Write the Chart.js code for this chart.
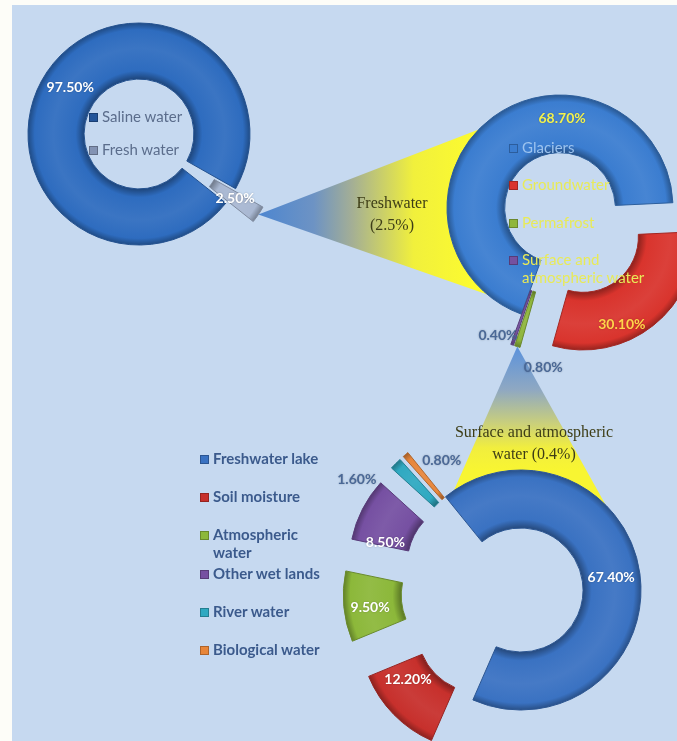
<!DOCTYPE html>
<html>
<head>
<meta charset="utf-8">
<title>Water distribution</title>
<script src="https://cdn.jsdelivr.net/npm/chart.js@4.4.1/dist/chart.umd.min.js"></script>
<style>
  html, body { margin: 0; padding: 0; background: #fdfdf8; }
  #page { position: relative; width: 677px; height: 741px; overflow: hidden; }
  #panel { position: absolute; left: 12px; top: 5px; right: 0; bottom: 0; background: #c6d9f0; }
  canvas { position: absolute; }
  .item { position: absolute; line-height: 20px; }
  .item i { position: absolute; left: -13px; top: 6px; width: 7px; height: 7px; border: 1px solid rgba(0, 0, 0, 0.25); }
  .callout { position: absolute; font-family: "Liberation Serif", "DejaVu Serif", serif; font-size: 16px;
    color: #3d3d16; text-align: center; line-height: 22px; }
</style>
</head>
<body>
<div id="page">
  <div id="panel"></div>
  <canvas id="callouts" width="677" height="741" style="left:0;top:0"></canvas>
  <canvas id="water_chart"></canvas>
  <canvas id="fresh_chart"></canvas>
  <canvas id="surface_chart"></canvas>
  <div class="callout" id="fresh_note" style="left:332px;top:192px;width:120px"></div>
  <div class="callout" id="surface_note" style="left:424px;top:421px;width:220px"></div>
</div>
<script>
// all water on earth
const waterLabels = ["Saline water", "Fresh water"];
const waterValues = [97.5, 2.5];

// fresh water split
const freshLabels = ["Glaciers", "Groundwater", "Permafrost", "Surface and atmospheric water"];
const freshValues = [68.7, 30.1, 0.8, 0.4];

// surface and atmospheric water split
const surfaceLabels = ["Freshwater lake", "Soil moisture", "Atmospheric water", "Other wet lands", "River water", "Biological water"];
const surfaceValues = [67.4, 12.2, 9.5, 8.5, 1.6, 0.8];

const waterColors = ["#2e6cbf", "#a9b8d2"];
const freshColors = ["#3b7dd0", "#d9342d", "#8fb63c", "#7551a0"];
const surfaceColors = ["#3a72c2", "#c7302c", "#8cb83a", "#7650a2", "#2fa9c1", "#e8863a"];

const shade = (hex, k) => {
  const n = parseInt(hex.slice(1), 16);
  const f = (c) => Math.round(k < 0 ? c * (1 + k) : c + (255 - c) * k);
  return `rgb(${f(n >> 16)}, ${f((n >> 8) & 255)}, ${f(n & 255)})`;
};

// bevelled look: darker at inner and outer rim
const tube = (colors) => (context) => {
  const chart = context.chart;
  const color = colors[context.dataIndex];
  const ctrl = chart.getDatasetMeta(0).controller;
  if (!chart.chartArea || !ctrl || !ctrl.outerRadius) return color;
  const a = chart.chartArea;
  const cx = (a.left + a.right) / 2;
  const cy = (a.top + a.bottom) / 2;
  const g = chart.ctx.createRadialGradient(cx, cy, ctrl.innerRadius, cx, cy, ctrl.outerRadius);
  g.addColorStop(0, shade(color, -0.35));
  g.addColorStop(0.15, color);
  g.addColorStop(0.55, shade(color, 0.06));
  g.addColorStop(0.88, color);
  g.addColorStop(1, shade(color, -0.3));
  return g;
};

// pulls slices out of the ring like an exploded pie
const explode = (shift) => ({
  id: "explode",
  beforeDatasetDraw(chart, args) {
    const ctx = chart.ctx;
    args.meta.data.forEach((arc, i) => {
      const mid = (arc.startAngle + arc.endAngle) / 2;
      ctx.save();
      ctx.translate(Math.cos(mid) * shift[i], Math.sin(mid) * shift[i]);
      arc.draw(ctx);
      ctx.restore();
    });
    return false;
  },
});

// percentage labels: place = [ring fraction, angle nudge in degrees]
const pctLabels = (shift, place, colors) => ({
  id: "pctLabels",
  afterDatasetsDraw(chart) {
    const ctx = chart.ctx;
    const values = chart.data.datasets[0].data;
    ctx.save();
    ctx.font = "bold 14px Lato, 'Noto Sans', sans-serif";
    ctx.textAlign = "center";
    ctx.textBaseline = "middle";
    chart.getDatasetMeta(0).data.forEach((arc, i) => {
      const [f, nudge] = place[i];
      const ang = (arc.startAngle + arc.endAngle) / 2 + (nudge * Math.PI) / 180;
      const r = arc.innerRadius + f * (arc.outerRadius - arc.innerRadius) + shift[i];
      ctx.fillStyle = colors[i];
      ctx.shadowColor = "rgba(0,0,0,0.25)";
      ctx.shadowBlur = 2;
      ctx.fillText(values[i].toFixed(2) + "%", arc.x + Math.cos(ang) * r, arc.y + Math.sin(ang) * r);
    });
    ctx.restore();
  },
});

const createDonut = (canvasId, cfg) => {
  const canvas = document.getElementById(canvasId);
  canvas.width = cfg.size;
  canvas.height = cfg.size;
  canvas.style.left = cfg.cx - cfg.size / 2 + "px";
  canvas.style.top = cfg.cy - cfg.size / 2 + "px";
  return new Chart(canvas, {
    type: "doughnut",
    data: {
      labels: cfg.labels,
      datasets: [
        {
          data: cfg.values,
          backgroundColor: tube(cfg.colors),
          borderColor: cfg.colors.map((c) => shade(c, -0.25)),
          borderWidth: 1,
        },
      ],
    },
    options: {
      responsive: false,
      animation: false,
      events: [],
      radius: cfg.radius,
      cutout: cfg.cutout,
      rotation: cfg.rotation,
      layout: { padding: 0 },
      plugins: { legend: { display: false }, tooltip: { enabled: false } },
    },
    plugins: [explode(cfg.shift), pctLabels(cfg.shift, cfg.place, cfg.labelColors)],
  });
};

const waterShift = [0, 33];
const freshShift = [0, 37, 32, 32];
const surfaceShift = [0, 58, 58, 58, 58, 58];

const waterChart = createDonut("water_chart", {
  cx: 139, cy: 134, size: 320, radius: 111, cutout: "49.5%", rotation: 128.5,
  labels: waterLabels, values: waterValues, colors: waterColors, shift: waterShift,
  place: [[0.5, 0], [0.5, 0]],
  labelColors: ["#ffffff", "#ffffff"],
});

const freshChart = createDonut("fresh_chart", {
  cx: 560, cy: 208, size: 360, radius: 113, cutout: "49%", rotation: 200,
  labels: freshLabels, values: freshValues, colors: freshColors, shift: freshShift,
  place: [[0.6, 37.7], [0.69, 10.6], [1.26, -11.1], [0.94, 6.7]],
  labelColors: ["#f2f24e", "#ffd44a", "#4a6896", "#4a6896"],
});

const surfaceChart = createDonut("surface_chart", {
  cx: 521, cy: 590, size: 400, radius: 120, cutout: "51.7%", rotation: -39,
  labels: surfaceLabels, values: surfaceValues, colors: surfaceColors, shift: surfaceShift,
  place: [[0.5, 0], [0.42, 5.9], [0.55, -1.4], [0.41, -7.6], [1.34, -11.4], [0.55, 9]],
  labelColors: ["#ffffff", "#ffffff", "#ffffff", "#ffffff", "#4a6896", "#4a6896"],
});

// legends placed inside / beside the rings
const addLegend = (labels, colors, opts) => {
  const page = document.getElementById("page");
  labels.forEach((label, i) => {
    const item = document.createElement("div");
    item.className = "item";
    item.style.left = opts.x + "px";
    item.style.top = opts.y + i * opts.pitch - 10 + "px";
    item.style.width = opts.width + "px";
    item.style.font = opts.font;
    item.style.color = Array.isArray(opts.color) ? opts.color[i] : opts.color;
    const mark = document.createElement("i");
    mark.style.background = colors[i];
    item.appendChild(mark);
    item.appendChild(document.createTextNode(label));
    page.appendChild(item);
  });
};

addLegend(waterLabels, ["#24559a", "#8393b3"], {
  x: 102, y: 117, pitch: 33, width: 110, font: "15px Lato, sans-serif", color: "#5b6d8c",
});
addLegend(freshLabels, freshColors, {
  x: 522, y: 148, pitch: 37.3, width: 138, font: "15px Lato, sans-serif",
  color: ["#9cc3ef", "#e8ea58", "#e8ea58", "#e8ea58"],
});
addLegend(surfaceLabels, surfaceColors, {
  x: 213, y: 459, pitch: 38.2, width: 126, font: "bold 15px Lato, sans-serif", color: "#3b5a8c",
});

document.getElementById("fresh_note").innerHTML = `Freshwater<br>(${waterValues[1]}%)`;
document.getElementById("surface_note").innerHTML =
  `Surface and atmospheric<br>water (${freshValues[3]}%)`;

// yellow fans that link a pulled-out slice to the next ring
const pageXY = (chart) => ({
  left: parseFloat(chart.canvas.style.left),
  top: parseFloat(chart.canvas.style.top),
});

const sliceTip = (chart, index, shift) => {
  const arc = chart.getDatasetMeta(0).data[index];
  const { left, top } = pageXY(chart);
  const mid = (arc.startAngle + arc.endAngle) / 2;
  const r = arc.outerRadius + shift[index];
  return { x: left + arc.x + Math.cos(mid) * r, y: top + arc.y + Math.sin(mid) * r };
};

const ringOf = (chart) => {
  const arc = chart.getDatasetMeta(0).data[0];
  const { left, top } = pageXY(chart);
  return { x: left + arc.x, y: top + arc.y, r: arc.outerRadius };
};

const fromTop = (deg) => ((deg - 90) * Math.PI) / 180;

const drawCallouts = () => {
  const ctx = document.getElementById("callouts").getContext("2d");

  const tip1 = sliceTip(waterChart, 1, waterShift);
  const ring2 = ringOf(freshChart);
  const g1 = ctx.createLinearGradient(tip1.x, 0, ring2.x - 80, 0);
  g1.addColorStop(0, "#4d86d0");
  g1.addColorStop(0.25, "#6d93c4");
  g1.addColorStop(0.42, "#a3ae96");
  g1.addColorStop(0.7, "#f1f03c");
  g1.addColorStop(1, "#fdfc2e");
  ctx.beginPath();
  ctx.moveTo(tip1.x, tip1.y);
  ctx.arc(ring2.x, ring2.y, ring2.r, fromTop(314), fromTop(220), true);
  ctx.closePath();
  ctx.fillStyle = g1;
  ctx.fill();

  const tip2 = sliceTip(freshChart, 2, freshShift);
  const ring3 = ringOf(surfaceChart);
  const g2 = ctx.createLinearGradient(0, tip2.y, 0, ring3.y - ring3.r);
  g2.addColorStop(0, "#5b92dc");
  g2.addColorStop(0.35, "#8fa8c2");
  g2.addColorStop(0.62, "#c9cf7c");
  g2.addColorStop(0.82, "#f1ee3e");
  g2.addColorStop(1, "#f8f532");
  ctx.beginPath();
  ctx.moveTo(tip2.x, tip2.y);
  ctx.arc(ring3.x, ring3.y, ring3.r, fromTop(-34), fromTop(45), false);
  ctx.closePath();
  ctx.fillStyle = g2;
  ctx.fill();
};

drawCallouts();
</script>
</body>
</html>
